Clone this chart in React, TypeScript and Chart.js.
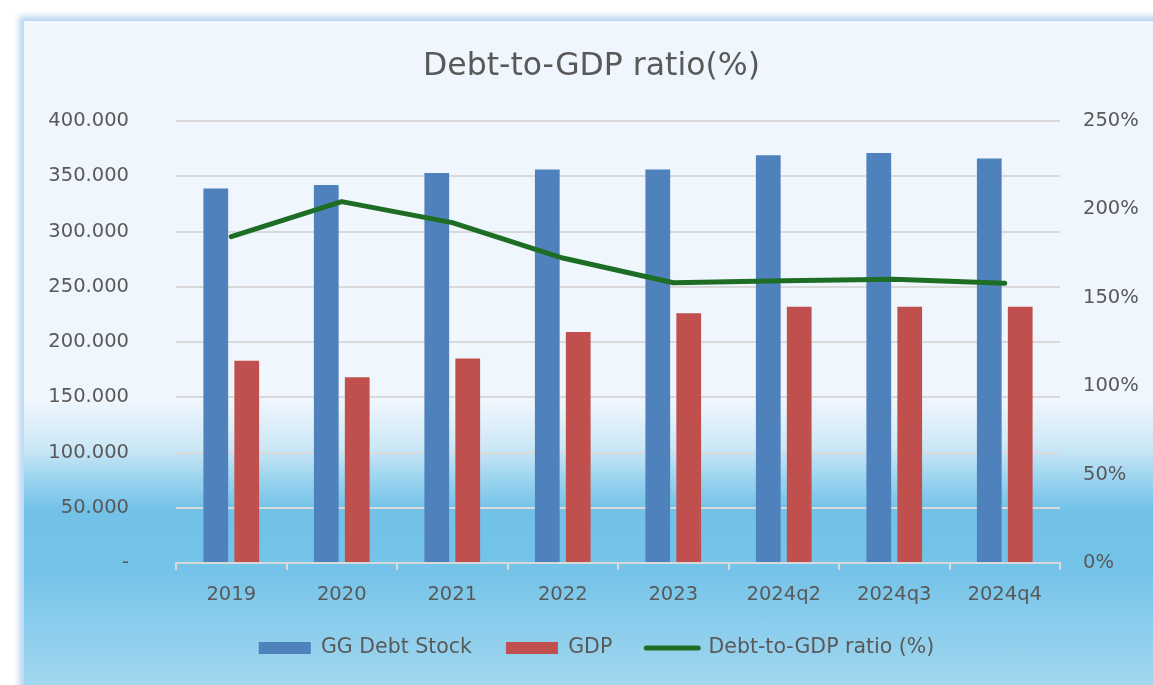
import React, { useEffect, useRef } from "react";
import { Chart, registerables } from "chart.js";

Chart.register(...registerables);

const categories = ["2019", "2020", "2021", "2022", "2023", "2024q2", "2024q3", "2024q4"];
const debtStock = [339, 342, 353, 356, 356, 369, 371, 366];
const gdp = [183, 168, 185, 209, 226, 232, 232, 232];
const debtRatio = [184.6, 204.4, 192.5, 172.5, 158.5, 159.7, 160.5, 158.2];
const seriesNames = ["GG Debt Stock", "GDP", "Debt-to-GDP ratio (%)"];
const titleText = "Debt-to-GDP ratio(%)";

const BLUE = "#4f81bd";
const RED = "#c0504d";
const GREEN = "#1d6e24";
const TEXT = "#595959";
const GRID = "#d9d9d9";
const FONT = "'DejaVu Sans', sans-serif";

const layoutTweaks = {
  id: "layoutTweaks",
  afterLayout(chart: any) {
    const x = chart.scales.x;
    if (x) x.bottom = x.top + 60;
    const lg = chart.legend;
    if (lg) {
      lg.left += 5;
      lg.right += 5;
    }
  },
};

export default function App() {
  const canvasRef = useRef<HTMLCanvasElement | null>(null);

  useEffect(() => {
    document.body.style.margin = "0";
    const canvas = canvasRef.current;
    if (!canvas) return;
    const chart = new Chart(canvas, {
      type: "bar",
      data: {
        labels: categories,
        datasets: [
          {
            type: "bar",
            label: seriesNames[0],
            data: debtStock,
            backgroundColor: BLUE,
            yAxisID: "y",
            order: 2,
            categoryPercentage: 0.56,
            barPercentage: 0.8,
          },
          {
            type: "bar",
            label: seriesNames[1],
            data: gdp,
            backgroundColor: RED,
            yAxisID: "y",
            order: 2,
            categoryPercentage: 0.56,
            barPercentage: 0.8,
          },
          {
            type: "line",
            label: seriesNames[2],
            data: debtRatio,
            borderColor: GREEN,
            backgroundColor: GREEN,
            borderWidth: 5,
            borderCapStyle: "round",
            borderJoinStyle: "round",
            pointRadius: 0,
            pointHoverRadius: 0,
            tension: 0,
            yAxisID: "y1",
            order: 0,
          },
        ],
      } as any,
      plugins: [layoutTweaks],
      options: {
        responsive: false,
        animation: false,
        layout: { padding: { left: 30, right: 0, top: 0, bottom: 16.75 } },
        plugins: {
          title: {
            display: true,
            text: titleText,
            color: TEXT,
            font: { family: FONT, size: 31.5, weight: "normal" },
            padding: { top: 48, bottom: 35.2 },
          },
          legend: {
            position: "bottom",
            labels: {
              usePointStyle: true,
              pointStyleWidth: 52,
              boxHeight: 12,
              padding: 34,
              color: TEXT,
              font: { family: FONT, size: 20.5 },
              sort: (a: any, b: any) => a.datasetIndex - b.datasetIndex,
              generateLabels: (c: any) => {
                const items = (Chart.defaults.plugins.legend.labels as any).generateLabels(c);
                return items.map((it: any) =>
                  it.datasetIndex === 2
                    ? { ...it, pointStyle: "line", strokeStyle: GREEN, fillStyle: GREEN, lineWidth: 5, lineCap: "round" }
                    : { ...it, pointStyle: "rect", lineWidth: 0 }
                );
              },
            },
          },
          tooltip: { enabled: false },
        },
        scales: {
          x: {
            offset: true,
            grid: {
              display: true,
              drawOnChartArea: false,
              drawTicks: true,
              tickLength: 7,
              color: GRID,
              lineWidth: 2,
              offset: true,
            },
            border: { display: true, color: GRID, width: 2 },
            ticks: { color: TEXT, font: { family: FONT, size: 19.5 }, padding: 13, maxRotation: 0 },
            afterFit: (s: any) => {
              s.height = 40.75;
            },
          },
          y: {
            position: "left",
            min: 0,
            max: 400,
            grid: { color: GRID, lineWidth: 2, drawTicks: false },
            border: { display: false },
            ticks: {
              stepSize: 50,
              color: TEXT,
              padding: 47,
              font: { family: FONT, size: 19.5 },
              callback: (v: any) => (Number(v) === 0 ? "-" : Number(v).toFixed(3)),
            },
            afterFit: (s: any) => {
              s.width = 146;
            },
          },
          y1: {
            position: "right",
            min: 0,
            max: 250,
            grid: { drawOnChartArea: false, drawTicks: false },
            border: { display: false },
            ticks: {
              stepSize: 50,
              color: TEXT,
              padding: 23,
              font: { family: FONT, size: 19.5 },
              callback: (v: any) => `${v}%`,
            },
            afterFit: (s: any) => {
              s.width = 93;
            },
          },
        },
      } as any,
    });
    return () => chart.destroy();
  }, []);

  return (
    <div style={{ position: "fixed", left: 0, top: 0, width: 1153, height: 685, background: "#ffffff", overflow: "hidden" }}>
      <div
        style={{
          position: "absolute",
          left: 24,
          top: 21,
          width: 1170,
          height: 700,
          boxShadow: "0 0 6px 5px #bcd6f1",
          background:
            "linear-gradient(to bottom, #eff6fd 0px, #eff6fd 379px, #cde8f6 426px, #9ad3ef 459px, #72c2e8 489px, #74c3e8 549px, #a2d7f0 664px, #a4d8f0 700px)",
        }}
      />
      <canvas ref={canvasRef} width={1153} height={685} style={{ position: "absolute", left: 0, top: 0 }} />
    </div>
  );
}
